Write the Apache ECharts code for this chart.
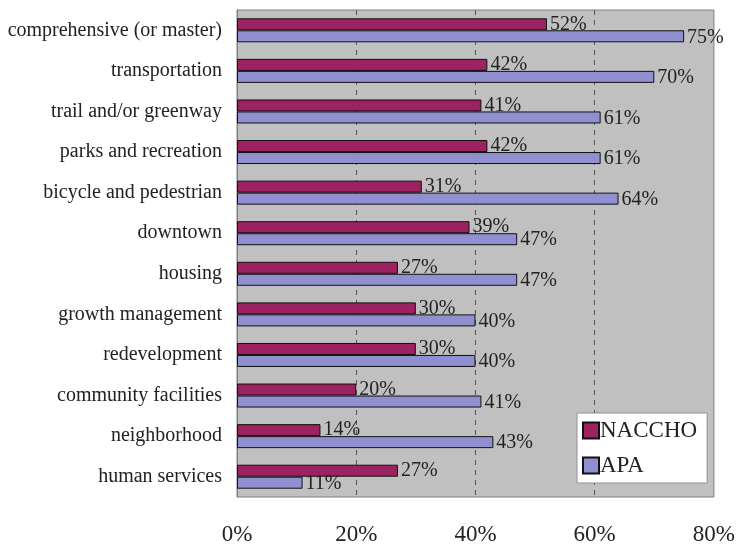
<!DOCTYPE html>
<html>
<head>
<meta charset="utf-8">
<script src="https://cdn.jsdelivr.net/npm/echarts@6/dist/echarts.min.js"></script>
<style>
  html, body { margin: 0; padding: 0; background: #ffffff; }
  #chart { width: 738px; height: 546px; }
</style>
</head>
<body>
<div id="chart"></div>
<script>
// Plan types, top to bottom
const categories = [
  'comprehensive (or master)',
  'transportation',
  'trail and/or greenway',
  'parks and recreation',
  'bicycle and pedestrian',
  'downtown',
  'housing',
  'growth management',
  'redevelopment',
  'community facilities',
  'neighborhood',
  'human services'
];
// Share of respondents (%)
const naccho = [52, 42, 41, 42, 31, 39, 27, 30, 30, 20, 14, 27];
const apa    = [75, 70, 61, 61, 64, 47, 47, 40, 40, 41, 43, 11];
const xTicks = [0, 20, 40, 60, 80];

const serif = '"Liberation Serif", "DejaVu Serif", serif';

const chart = echarts.init(document.getElementById('chart'));

const labelStyle = {
  show: true,
  position: 'right',
  distance: 3,
  formatter: p => p.value + '%',
  fontFamily: serif,
  fontSize: 20,
  color: '#222'
};

chart.setOption({
  animation: false,
  backgroundColor: '#ffffff',
  grid: {
    left: 237, right: 24, top: 10, bottom: 49,
    show: true,
    backgroundColor: '#c0c0c0',
    borderColor: '#808080',
    borderWidth: 1
  },
  legend: {
    data: ['NACCHO', 'APA'],
    orient: 'vertical',
    left: 577,
    top: 413,
    itemGap: 12,
    itemWidth: 16,
    itemHeight: 16,
    padding: [6, 10, 6, 5],
    backgroundColor: '#ffffff',
    borderColor: '#909090',
    borderWidth: 1,
    icon: 'rect',
    textStyle: { fontFamily: serif, fontSize: 23, lineHeight: 22, color: '#222', padding: [0, 0, 0, -4] }
  },
  xAxis: {
    type: 'value',
    min: 0,
    max: 80,
    interval: 20,
    axisLine: { show: false },
    axisTick: { show: false },
    splitLine: {
      show: true,
      showMinLine: false,
      showMaxLine: false,
      lineStyle: { color: '#555', type: [5, 5], width: 1 }
    },
    axisLabel: {
      margin: 26,
      fontFamily: serif,
      fontSize: 23,
      color: '#222',
      formatter: v => xTicks.includes(v) ? v + '%' : ''
    }
  },
  yAxis: {
    type: 'category',
    data: categories,
    inverse: true,
    axisLine: { show: true, lineStyle: { color: '#808080' } },
    axisTick: { show: false },
    axisLabel: {
      margin: 15,
      fontFamily: serif,
      fontSize: 20,
      color: '#222'
    }
  },
  series: [
    {
      name: 'NACCHO',
      type: 'bar',
      data: naccho,
      barWidth: 12,
      barGap: '0%',
      itemStyle: { color: '#9c2262', borderColor: '#111', borderWidth: 1 },
      label: labelStyle
    },
    {
      name: 'APA',
      type: 'bar',
      data: apa,
      barWidth: 12,
      barGap: '0%',
      itemStyle: { color: '#9090d0', borderColor: '#111', borderWidth: 1 },
      label: Object.assign({}, labelStyle, { offset: [0, 1] })
    }
  ]
});
</script>
</body>
</html>
